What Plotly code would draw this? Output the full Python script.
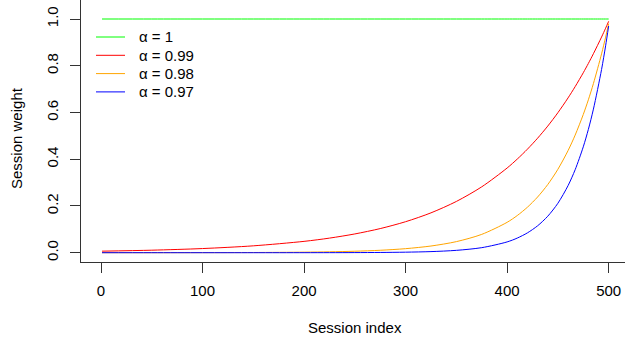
import plotly.graph_objects as go

# Session index at which each weight was sampled
session_index = [1, 50, 100, 150, 200, 225, 250, 275, 300, 325, 350, 375, 400,
                 410, 420, 430, 440, 450, 460, 467, 475, 480, 485, 493, 497,
                 500]

# Session weights for each decay factor alpha
weight_a100 = [1.0] * len(session_index)
weight_a099 = [0.00657, 0.01075, 0.01777, 0.02937, 0.04854, 0.0624, 0.08025,
               0.1032, 0.1326, 0.1705, 0.2193, 0.2819, 0.3624, 0.4007, 0.4430,
               0.4899, 0.5417, 0.5990, 0.6623, 0.7106, 0.7700, 0.8097, 0.8515,
               0.9227, 0.9606, 0.99]
weight_a098 = [0.00004, 0.00011, 0.0003, 0.00083, 0.00229, 0.00379, 0.00628,
               0.0104, 0.01723, 0.02856, 0.04731, 0.07841, 0.1300, 0.1591,
               0.1947, 0.2383, 0.2916, 0.3569, 0.4368, 0.5031, 0.5914, 0.6542,
               0.7238, 0.8508, 0.9224, 0.98]
weight_a097 = [0.0, 0.0, 0.00001, 0.00002, 0.0001, 0.00022, 0.00048, 0.00102,
               0.0022, 0.0047, 0.01006, 0.02153, 0.04613, 0.0626, 0.08483,
               0.1150, 0.1560, 0.2115, 0.2869, 0.3550, 0.4530, 0.5275, 0.6143,
               0.7838, 0.8853, 0.97]

series = [
    ("α = 1", weight_a100, "#00FF00"),
    ("α = 0.99", weight_a099, "#FF0000"),
    ("α = 0.98", weight_a098, "#FFA500"),
    ("α = 0.97", weight_a097, "#0000FF"),
]

x_ticks = [0, 100, 200, 300, 400, 500]
y_ticks = [0.0, 0.2, 0.4, 0.6, 0.8, 1.0]
y_tick_text = ["0.0", "0.2", "0.4", "0.6", "0.8", "1.0"]

FONT = "Liberation Sans, Arial, Helvetica, sans-serif"
FS = 15

fig = go.Figure()
for name, w, col in series:
    fig.add_trace(go.Scatter(
        x=session_index, y=w, mode="lines", name=name,
        line=dict(color=col, width=1, shape="spline", smoothing=0.8),
        showlegend=False, hoverinfo="skip",
    ))

# Legend drawn as short line samples with plotmath-style labels
leg_y0 = 37
leg_step = 18.3
W, H = 625, 341
ML, MB = 81, 79
pw, ph = W - ML, H - MB
for k, (name, w, col) in enumerate(series):
    ypx = leg_y0 + k * leg_step
    yp = (H - MB - ypx) / ph
    fig.add_shape(type="line", xref="paper", yref="paper",
                  x0=(96 - ML) / pw, x1=(125 - ML) / pw, y0=yp, y1=yp,
                  line=dict(color=col, width=1))
    fig.add_annotation(xref="paper", yref="paper", x=(137 - ML) / pw, y=yp,
                       text=name, showarrow=False, xanchor="left",
                       yanchor="middle",
                       font=dict(family=FONT, size=FS, color="black"))

# Axis titles
fig.add_annotation(xref="paper", yref="paper", x=(355 - ML) / pw,
                   y=-(327 - (H - MB)) / ph, text="Session index",
                   showarrow=False, xanchor="center", yanchor="middle",
                   font=dict(family=FONT, size=FS, color="black"))
fig.add_annotation(xref="paper", yref="paper", x=-(ML - 16) / pw,
                   y=(H - MB - 138) / ph, text="Session weight",
                   showarrow=False, xanchor="center", yanchor="middle",
                   textangle=-90,
                   font=dict(family=FONT, size=FS, color="black"))

fig.update_layout(
    width=W, height=H,
    margin=dict(l=ML, r=0, t=0, b=MB, pad=0),
    paper_bgcolor="white", plot_bgcolor="white",
    font=dict(family=FONT, size=FS, color="black"),
    xaxis=dict(range=[-19.7, 516.1], tickvals=x_ticks, ticks="outside",
               ticklen=10, tickcolor="#333", tickwidth=1,
               showline=True, linecolor="#333", linewidth=1,
               showgrid=False, zeroline=False, ticklabelstandoff=5),
    yaxis=dict(range=[-0.0398, 1.0813], tickvals=y_ticks,
               ticktext=y_tick_text, tickangle=-90, ticks="outside",
               ticklen=10, tickcolor="#333", tickwidth=1,
               showline=True, linecolor="#333", linewidth=1,
               showgrid=False, zeroline=False, ticklabelstandoff=6),
)

fig.write_html("out.html")
